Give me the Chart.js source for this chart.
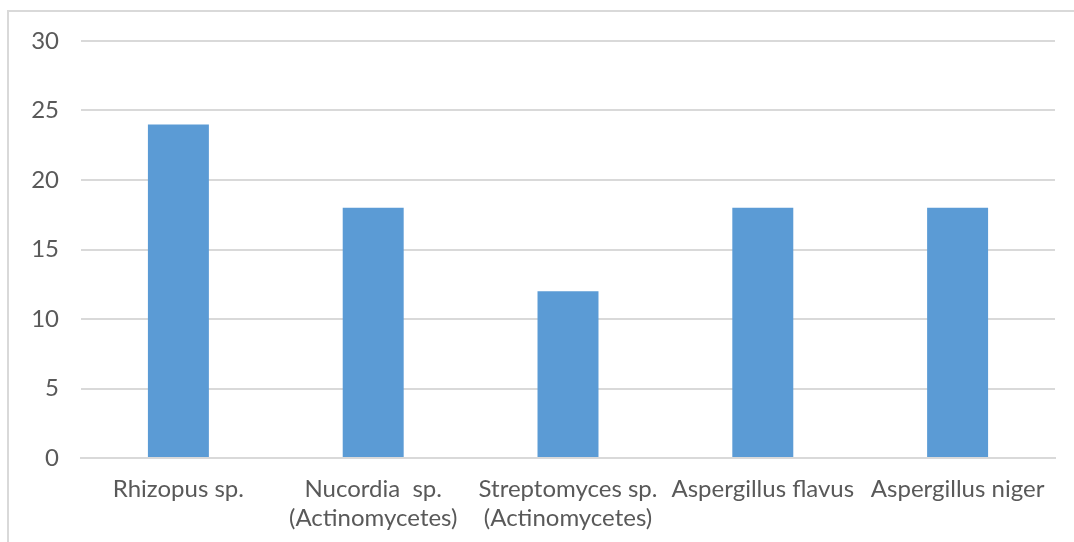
<!DOCTYPE html>
<html>
<head>
<meta charset="utf-8">
<script src="https://cdn.jsdelivr.net/npm/chart.js@4/dist/chart.umd.min.js"></script>
<style>
  html, body { margin: 0; padding: 0; background: #fff; }
  body { width: 1074px; height: 542px; position: relative; overflow: hidden; }
  #frame { position: absolute; left: 7px; top: 10px; width: 1200px; height: 700px;
           border-left: 2px solid #d9d9d9; border-top: 2px solid #d9d9d9; }
  #wrap { position: absolute; left: 0; top: 0; width: 1074px; height: 542px; }
</style>
</head>
<body>
<div id="frame"></div>
<div id="wrap"><canvas id="c" width="1074" height="542"></canvas></div>
<script>
const categories = [
  "Rhizopus sp.",
  ["Nucordia  sp.", "(Actinomycetes)"],
  ["Streptomyces sp.", "(Actinomycetes)"],
  "Aspergillus flavus",
  "Aspergillus niger"
];
const values = [24, 18, 12, 18, 18];
const yTicks = [0, 5, 10, 15, 20, 25, 30];

const FONT = "Lato, 'Open Sans', 'Liberation Sans', sans-serif";

new Chart(document.getElementById("c"), {
  type: "bar",
  data: {
    labels: categories,
    datasets: [{
      data: values,
      backgroundColor: "#5b9bd5",
      borderWidth: 0,
      barPercentage: 0.313,
      categoryPercentage: 1.0
    }]
  },
  options: {
    responsive: false,
    animation: false,
    devicePixelRatio: 1,
    layout: { padding: { left: 0, right: 19, top: 41, bottom: 0 } },
    plugins: { legend: { display: false }, tooltip: { enabled: false } },
    scales: {
      x: {
        grid: { display: false, drawTicks: false },
        border: { display: true, color: "#d9d9d9", width: 2 },
        ticks: {
          color: "#595959",
          font: { family: FONT, size: 24, lineHeight: 1.2 },
          padding: 17,
          maxRotation: 0,
          minRotation: 0,
          autoSkip: false
        },
        afterFit: (s) => { s.height = 84; }
      },
      y: {
        min: 0,
        max: 30,
        afterBuildTicks: (s) => { s.ticks = yTicks.map(v => ({ value: v })); },
        grid: { color: "#d9d9d9", lineWidth: 2, drawTicks: false },
        border: { display: false },
        ticks: {
          color: "#595959",
          font: { family: FONT, size: 24 },
          padding: 22
        },
        afterFit: (s) => { s.width = 81; }
      }
    }
  }
});
</script>
</body>
</html>
